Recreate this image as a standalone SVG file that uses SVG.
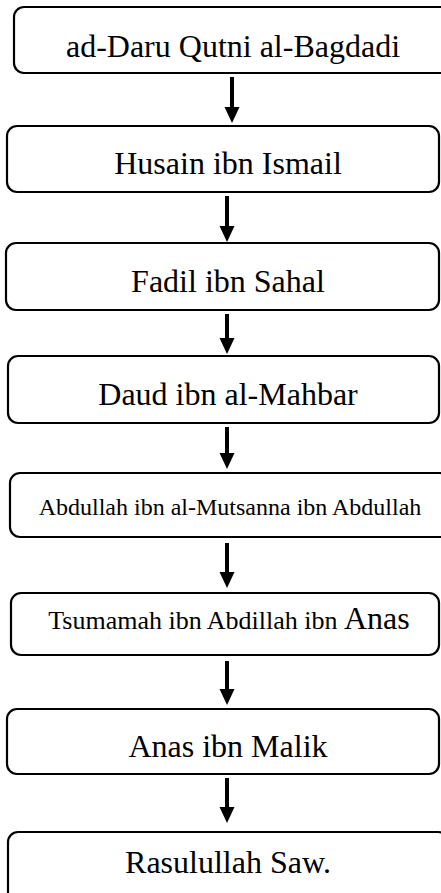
<svg xmlns="http://www.w3.org/2000/svg" width="441" height="893" viewBox="0 0 441 893">
<style>
.box{fill:#fff;stroke:#000;stroke-width:2.2}
.t{font-family:"Liberation Serif","Times New Roman",serif;font-size:32px;fill:#000;text-anchor:middle}
.s{font-size:24px}
.m{font-size:26px}
.c{stroke:#000;stroke-width:4;fill:none}
</style>
<rect width="441" height="893" fill="#fff"/>
<g id="n1"><rect class="box" x="14" y="7" width="440" height="66" rx="10"/><text class="t" x="233" y="57">ad-Daru Qutni al-Bagdadi</text></g>
<g id="n2"><rect class="box" x="7" y="126" width="432" height="66" rx="10"/><text class="t" x="228" y="174">Husain ibn Ismail</text></g>
<g id="n3"><rect class="box" x="6" y="243" width="433" height="67" rx="10"/><text class="t" x="228" y="292">Fadil ibn Sahal</text></g>
<g id="n4"><rect class="box" x="8" y="356" width="431" height="67" rx="10"/><text class="t" x="228" y="405">Daud ibn al-Mahbar</text></g>
<g id="n5"><rect class="box" x="10" y="473" width="440" height="64" rx="10"/><text class="t s" x="230" y="515">Abdullah ibn al-Mutsanna ibn Abdullah</text></g>
<g id="n6"><rect class="box" x="11" y="593" width="428" height="62" rx="10"/><text class="t m" x="229" y="629">Tsumamah ibn Abdillah ibn <tspan font-size="32">Anas</tspan></text></g>
<g id="n7"><rect class="box" x="7" y="709" width="432" height="65" rx="10"/><text class="t" x="228" y="757">Anas ibn Malik</text></g>
<g id="n8"><rect class="box" x="8" y="832" width="440" height="80" rx="10"/><text class="t" x="228" y="873">Rasulullah Saw.</text></g>
<g id="connectors" fill="#000">
<path class="c" d="M232 77V109"/><polygon points="224.5,107 239.5,107 232,123"/>
<path class="c" d="M227 196V228"/><polygon points="219.5,226 234.5,226 227,242"/>
<path class="c" d="M227 314V340"/><polygon points="219.5,338 234.5,338 227,354"/>
<path class="c" d="M227 427V455"/><polygon points="219.5,453 234.5,453 227,469"/>
<path class="c" d="M227 543V574"/><polygon points="219.5,572 234.5,572 227,588"/>
<path class="c" d="M227 661V691"/><polygon points="219.5,689 234.5,689 227,705"/>
<path class="c" d="M227 778V809"/><polygon points="219.5,807 234.5,807 227,823"/>
</g>
</svg>
